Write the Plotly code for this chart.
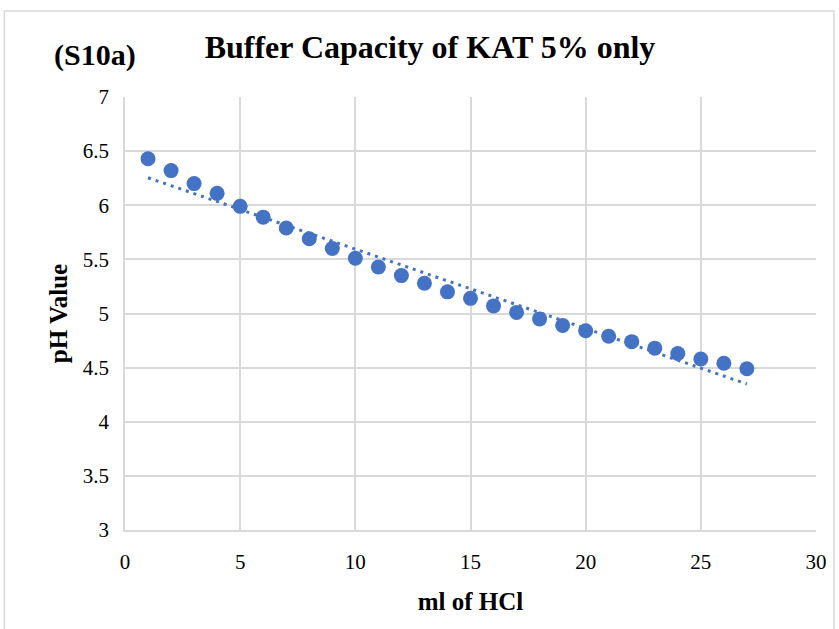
import numpy as np
import plotly.graph_objects as go

ml_hcl = list(range(1, 28))
ph_values = [6.43, 6.32, 6.20, 6.11, 5.99, 5.89, 5.79, 5.69, 5.60, 5.51,
             5.43, 5.35, 5.28, 5.20, 5.14, 5.07, 5.01, 4.95, 4.89, 4.84,
             4.79, 4.74, 4.68, 4.63, 4.58, 4.54, 4.49]
x_ticks = [0, 5, 10, 15, 20, 25, 30]
y_ticks = [3, 3.5, 4, 4.5, 5, 5.5, 6, 6.5, 7]

slope, intercept = np.polyfit(ml_hcl, ph_values, 1)
trend_x = [ml_hcl[0], ml_hcl[-1]]
trend_y = [slope * v + intercept for v in trend_x]

FONT = "Liberation Serif"
BLUE = "#4472C4"
GRID = "#d9d9d9"

# plot area in pixels
L, R, T, B = 125, 818, 97, 530
PW, PH = R - L, B - T

def px(xp):
    return (xp - L) / PW

def py(yp):
    return (B - yp) / PH

fig = go.Figure()
fig.add_trace(go.Scatter(x=trend_x, y=trend_y, mode="lines",
                         line=dict(color=BLUE, width=3, dash="3px,5px"),
                         showlegend=False, hoverinfo="skip"))
fig.add_trace(go.Scatter(x=ml_hcl, y=ph_values, mode="markers",
                         marker=dict(color=BLUE, size=15),
                         showlegend=False))

fig.update_layout(
    width=839, height=629,
    margin=dict(l=L, r=839 - R, t=T, b=629 - B),
    paper_bgcolor="white", plot_bgcolor="white",
    font=dict(family=FONT, color="black", size=21),
    title=dict(text="<b>Buffer Capacity of KAT 5% only</b>",
               x=430 / 839, xanchor="center", y=1 - 47 / 629, yanchor="middle",
               font=dict(family=FONT, size=32, color="black")),
    xaxis=dict(range=[0, 30], tickvals=x_ticks, showgrid=True,
               gridcolor=GRID, gridwidth=1.5, zeroline=False,
               showline=True, linecolor=GRID, linewidth=1.5,
               ticks="", ticklabelstandoff=12,
               tickfont=dict(size=21, family=FONT),
               title=dict(text="<b>ml of HCl</b>", font=dict(size=25, family=FONT),
                          standoff=20)),
    yaxis=dict(range=[3, 7], tickvals=y_ticks, showgrid=True,
               gridcolor=GRID, gridwidth=1.5, zeroline=False,
               showline=True, linecolor=GRID, linewidth=1.5,
               ticks="", ticklabelstandoff=10,
               tickfont=dict(size=21, family=FONT),
               title=dict(text="<b>pH Value</b>", font=dict(size=25, family=FONT),
                          standoff=8)),
    annotations=[dict(text="<b>(S10a)</b>", x=px(95), y=py(55),
                      xref="paper", yref="paper", xanchor="center", yanchor="middle",
                      showarrow=False, font=dict(family=FONT, size=30, color="black"))],
    shapes=[dict(type="rect", xref="paper", yref="paper",
                 x0=px(4), x1=px(836), y0=py(640), y1=py(11),
                 line=dict(color=GRID, width=1.5))],
)

fig.write_html("out.html", config={"displayModeBar": False},
               post_script="document.body.style.margin='0';")
